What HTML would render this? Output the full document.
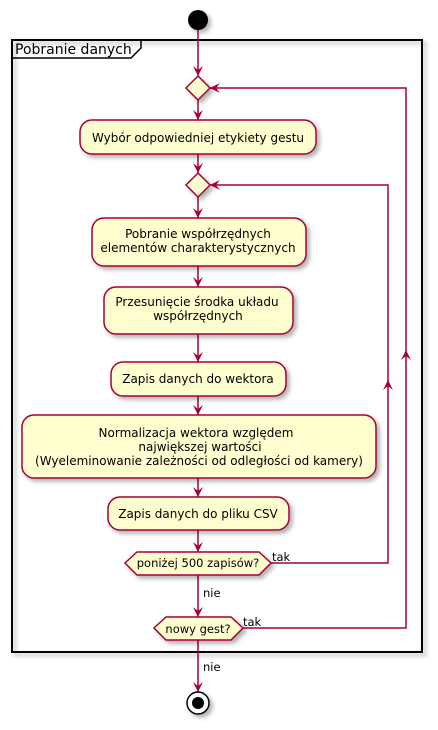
<!DOCTYPE html>
<html><head><meta charset="utf-8"><style>
html,body{margin:0;padding:0;background:#fff}
svg{display:block}
text{font-family:"DejaVu Sans","Liberation Sans",sans-serif;font-size:12px;fill:#000}
</style></head><body>
<svg width="438" height="730" viewBox="0 0 438 730" xmlns="http://www.w3.org/2000/svg">
<defs>
<filter id="sh" x="-20%" y="-20%" width="150%" height="150%"><feDropShadow dx="3" dy="3" stdDeviation="2" flood-color="#000" flood-opacity="0.3"/></filter>
</defs>
<g fill="#FEFECE" stroke="#A80036" stroke-width="1.5">
<circle cx="198" cy="20" r="10" fill="#000" stroke="none" filter="url(#sh)"/>
<rect x="12" y="40" width="410" height="612" fill="none" stroke="#000" stroke-width="2" filter="url(#sh)"/>
</g>
<path d="M12,58 H131 L141,48 V40" fill="none" stroke="#000" stroke-width="1.5"/>
<text x="15" y="54" style="font-size:14px">Pobranie danych</text>
<g stroke="#A80036" stroke-width="1.5" fill="none">
<path d="M198,30 V76 M198,100 V120 M198,154 V173 M198,197 V218 M198,266 V287 M198,334 V362 M198,396 V415 M198,478 V497 M198,530 V552 M198,575 V617 M198,640 V692"/>
<path d="M271,563 H388 V185 H210"/>
<path d="M243,628 H406 V88 H210"/>
</g>
<g fill="#A80036">
<path d="M193,66 L198,76 L203,66 L198,70Z"/>
<path d="M193,110 L198,120 L203,110 L198,114Z"/>
<path d="M193,163 L198,173 L203,163 L198,167Z"/>
<path d="M193,208 L198,218 L203,208 L198,212Z"/>
<path d="M193,277 L198,287 L203,277 L198,281Z"/>
<path d="M193,352 L198,362 L203,352 L198,356Z"/>
<path d="M193,405 L198,415 L203,405 L198,409Z"/>
<path d="M193,487 L198,497 L203,487 L198,491Z"/>
<path d="M193,542 L198,552 L203,542 L198,546Z"/>
<path d="M193,607 L198,617 L203,607 L198,611Z"/>
<path d="M193,682 L198,692 L203,682 L198,686Z"/>
<path d="M220,180 L210,185 L220,190 L216,185Z"/>
<path d="M220,83 L210,88 L220,93 L216,88Z"/>
<path d="M383,390 L388,380 L393,390 L388,386Z"/>
<path d="M401,360 L406,350 L411,360 L406,356Z"/>
</g>
<g fill="#FEFECE" stroke="#A80036" stroke-width="1.5" filter="url(#sh)">
<path d="M198,76 L210,88 L198,100 L186,88Z"/>
<rect x="80" y="120" width="236" height="34" rx="12"/>
<path d="M198,173 L210,185 L198,197 L186,185Z"/>
<rect x="92" y="218" width="214" height="48" rx="12"/>
<rect x="104" y="287" width="189" height="47" rx="12"/>
<rect x="111" y="362" width="175" height="34" rx="12"/>
<rect x="22" y="415" width="354" height="63" rx="12"/>
<rect x="108" y="497" width="181" height="33" rx="12"/>
<path d="M137,552 H259 L271,563 L259,575 H137 L125,563Z"/>
<path d="M166,617 H231 L243,628 L231,640 H166 L154,628Z"/>
</g>
<circle cx="198" cy="703" r="11" fill="#fff" stroke="#000" stroke-width="1.5" filter="url(#sh)"/>
<circle cx="198" cy="703" r="6" fill="#000"/>
<g text-anchor="middle">
<text x="198" y="142">Wybór odpowiedniej etykiety gestu</text>
<text x="198" y="238">Pobranie współrzędnych</text>
<text x="198" y="252">elementów charakterystycznych</text>
<text x="197" y="306">Przesunięcie środka układu</text>
<text x="198" y="320">współrzędnych</text>
<text x="198" y="383">Zapis danych do wektora</text>
<text x="196" y="437">Normalizacja wektora względem</text>
<text x="200" y="451">największej wartości</text>
<text x="199" y="465">(Wyeleminowanie zależności od odległości od kamery)</text>
<text x="198" y="518">Zapis danych do pliku CSV</text>
<text x="198" y="567" style="font-size:11.5px">poniżej 500 zapisów?</text>
<text x="198" y="633" style="font-size:11.5px">nowy gest?</text>
</g>
<text x="272" y="561" style="font-size:11.5px">tak</text>
<text x="243" y="626" style="font-size:11.5px">tak</text>
<text x="203" y="597" style="font-size:11.5px">nie</text>
<text x="203" y="671" style="font-size:11.5px">nie</text>
</svg>
</body></html>
